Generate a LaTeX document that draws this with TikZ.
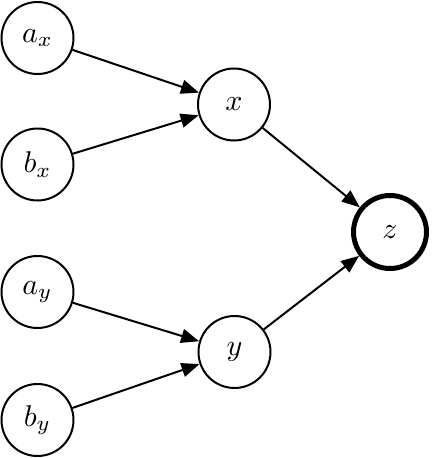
\documentclass[tikz,border=0pt]{standalone}
\usepackage{graphicx}
\usetikzlibrary{arrows.meta}
\newcommand{\bigtxt}[1]{\scalebox{3}{$#1$}}
\begin{document}
\begin{tikzpicture}[x=1pt,y=-1pt,
  var/.style={circle,draw,line width=2pt,minimum size=72pt,inner sep=0pt},
  outvar/.style={var,line width=5pt,minimum size=73pt},
  edge/.style={line width=2pt,-{Triangle[length=18pt,width=14pt]}}]
\useasboundingbox (0,0) rectangle (433,458);
\node[var] (ax) at (37.5,38) {\bigtxt{a_x}};
\node[var] (bx) at (37.5,164.5) {\bigtxt{b_x}};
\node[var] (ay) at (37.5,292) {\bigtxt{a_y}};
\node[var] (by) at (37.5,420) {\bigtxt{b_y}};
\node[var] (x) at (234,104.5) {\bigtxt{x}};
\node[var] (y) at (234.5,352) {\bigtxt{y}};
\node[outvar] (z) at (390,232) {\bigtxt{z}};
\draw[edge] (ax) -- (x);
\draw[edge] (bx) -- (x);
\draw[edge] (ay) -- (y);
\draw[edge] (by) -- (y);
\draw[edge] (x) -- (z);
\draw[edge] (y) -- (z);
\end{tikzpicture}
\end{document}
